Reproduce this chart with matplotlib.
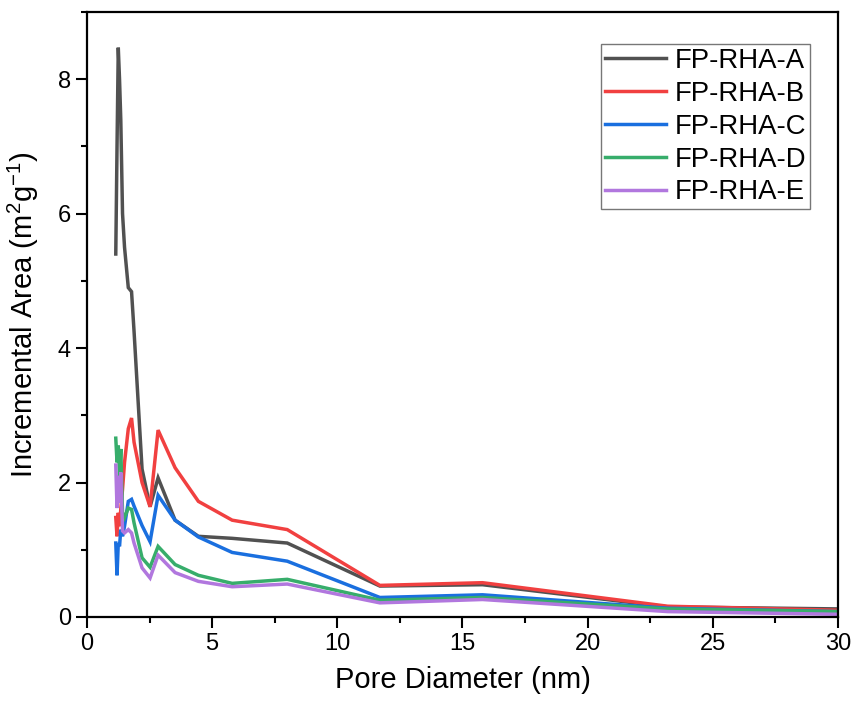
import matplotlib
matplotlib.use("Agg")
import matplotlib.pyplot as plt
from matplotlib.ticker import MultipleLocator

plt.rcParams['font.family'] = ['Liberation Sans', 'DejaVu Sans']
plt.rcParams['mathtext.fontset'] = 'custom'
plt.rcParams['mathtext.rm'] = 'Liberation Sans'
plt.rcParams['mathtext.it'] = 'Liberation Sans'

pore_diameter = [1.15, 1.20, 1.25, 1.30, 1.35, 1.42, 1.50, 1.65, 1.78, 1.88,
                 2.20, 2.52, 2.84, 3.52, 4.45, 5.80, 8.00, 11.70, 15.80, 23.20, 30.00]

area_A = [5.40, 7.00, 8.47, 8.00, 7.40, 6.00, 5.50, 4.90, 4.84, 4.25,
          2.20, 1.64, 2.07, 1.44, 1.20, 1.17, 1.10, 0.46, 0.48, 0.15, 0.12]
area_B = [1.48, 1.20, 1.55, 1.35, 1.60, 1.90, 2.30, 2.80, 2.96, 2.60,
          2.00, 1.64, 2.78, 2.22, 1.72, 1.44, 1.30, 0.47, 0.51, 0.16, 0.10]
area_C = [1.10, 0.62, 1.10, 1.05, 1.30, 1.20, 1.35, 1.72, 1.75, 1.65,
          1.36, 1.12, 1.81, 1.44, 1.19, 0.96, 0.83, 0.29, 0.33, 0.13, 0.08]
area_D = [2.66, 2.30, 2.55, 2.10, 2.50, 1.55, 1.48, 1.62, 1.60, 1.40,
          0.88, 0.74, 1.05, 0.78, 0.62, 0.50, 0.56, 0.25, 0.29, 0.12, 0.08]
area_E = [2.26, 1.62, 2.10, 1.70, 2.15, 1.28, 1.25, 1.30, 1.25, 1.10,
          0.73, 0.58, 0.92, 0.66, 0.53, 0.45, 0.49, 0.21, 0.26, 0.08, 0.04]

labels = ['FP-RHA-A', 'FP-RHA-B', 'FP-RHA-C', 'FP-RHA-D', 'FP-RHA-E']
colors = ['#515151', '#F14040', '#1A6FDF', '#37AD6B', '#B177DE']
series = [area_A, area_B, area_C, area_D, area_E]

fig = plt.figure(figsize=(8.57, 7.16), dpi=100)
ax = fig.add_axes([0.1015, 0.1383, 0.8763, 0.8449])

for ys, lab, col in zip(series, labels, colors):
    ax.plot(pore_diameter, ys, color=col, lw=2.5, label=lab, solid_joinstyle='miter')

ax.set_xlim(0, 30)
ax.set_ylim(0, 9.0)
ax.xaxis.set_major_locator(MultipleLocator(5))
ax.xaxis.set_minor_locator(MultipleLocator(2.5))
ax.yaxis.set_major_locator(MultipleLocator(2))
ax.yaxis.set_minor_locator(MultipleLocator(1))
ax.tick_params(which='both', direction='out', top=False, right=False, width=1.5, labelsize=17)
ax.tick_params(which='major', length=8)
ax.tick_params(which='minor', length=4.5)
for s in ax.spines.values():
    s.set_linewidth(1.6)

ax.set_xlabel('Pore Diameter (nm)', fontsize=21, labelpad=8)
ax.set_ylabel('Incremental Area (m$^2$g$^{-1}$)', fontsize=21, labelpad=12)

leg = ax.legend(loc='upper right', bbox_to_anchor=(0.963, 0.947), borderaxespad=0,
                fontsize=19.8, frameon=True, fancybox=False, edgecolor='#555555',
                handlelength=2.25, handletextpad=0.3, labelspacing=0.25,
                borderpad=0.14)
leg.get_frame().set_linewidth(1.0)

fig.savefig('out.png', dpi=100)
